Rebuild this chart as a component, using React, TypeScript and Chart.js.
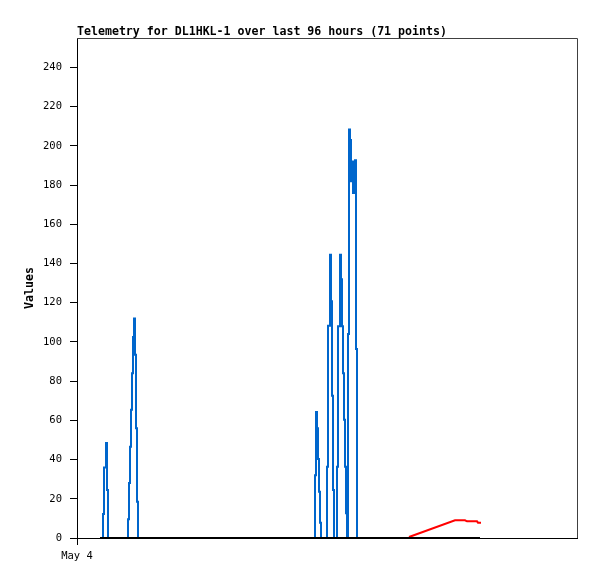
import { useEffect, useRef } from "react";
import { Chart, registerables } from "chart.js";

Chart.register(...registerables);

const TITLE = "Telemetry for DL1HKL-1 over last 96 hours (71 points)";
const Y_LABEL = "Values";
const X_TICKS = [0];
const X_TICK_LABELS = ["May 4"];
const Y_TICKS = [0, 20, 40, 60, 80, 100, 120, 140, 160, 180, 200, 220, 240];
const X_MAX_HOURS = 100;
const Y_MAX = 255;

// hours since start of May 4
const blueHours = [
  4.6,
  5.2, 5.4, 5.8, 6.0, 6.2,
  10.2, 10.4, 10.6, 10.8, 11.0, 11.2, 11.4, 11.6, 11.8, 12.0, 12.2,
  47.6, 47.8, 48.0, 48.2, 48.4, 48.6, 48.8,
  50.0, 50.2, 50.6, 50.8, 51.0, 51.2, 51.4,
  52.0, 52.2, 52.6, 52.8, 53.0, 53.2, 53.4, 53.6, 53.8, 54.0,
  54.2, 54.4, 54.6, 54.8, 55.0, 55.2, 55.4, 55.6, 55.8, 56.0,
  80.6,
];
const blueValues = [
  0,
  12.3, 36, 48.4, 24.5, 0,
  9.5, 28, 46.6, 65.4, 84, 102.5, 112, 93.4, 56, 18.5, 0,
  32, 64.3, 56, 40.3, 23.6, 7.8, 0,
  36.4, 108.3, 144.5, 120.7, 72.5, 24.5, 0,
  36.4, 108, 144.5, 132, 108, 84, 60.3, 36.4, 12.6, 0,
  104, 208.3, 203, 182, 192, 176, 188, 192.7, 96.4, 0,
  0,
];

const blackHours = [4.6, 80.6];
const blackValues = [0, 0];

const redHours = [66.4, 75.6, 77.6, 78.0, 80.0, 80.2, 80.8];
const redValues = [0.5, 9, 9, 8.5, 8.5, 7.8, 7.8];

const BLUE = "#0066cc";
const RED = "#ff0000";
const BLACK = "#000000";
const FRAME = "#404040";
const MONO = '"DejaVu Sans Mono", "Liberation Mono", monospace';

const toPoints = (xs: number[], ys: number[]) => xs.map((x, i) => ({ x, y: ys[i] }));

const decoPlugin = {
  id: "deco",
  afterDraw(chart: any) {
    const { ctx, chartArea: a } = chart;
    ctx.save();
    ctx.strokeStyle = FRAME;
    ctx.lineWidth = 1;
    ctx.beginPath();
    ctx.moveTo(a.left, Math.round(a.top) + 0.5);
    ctx.lineTo(Math.round(a.right) + 0.5, Math.round(a.top) + 0.5);
    ctx.lineTo(Math.round(a.right) + 0.5, a.bottom);
    ctx.stroke();

    ctx.fillStyle = "#000";
    ctx.font = `bold 11.6px ${MONO}`;
    ctx.textBaseline = "alphabetic";
    ctx.textAlign = "left";
    ctx.fillText(TITLE, a.left, a.top - 3);

    ctx.translate(32.5, (a.top + a.bottom) / 2);
    ctx.rotate(-Math.PI / 2);
    ctx.textAlign = "center";
    ctx.fillText(Y_LABEL, 0, 0);
    ctx.restore();
  },
};

export default function App() {
  const ref = useRef<HTMLCanvasElement | null>(null);

  useEffect(() => {
    if (!ref.current) return;
    const chart = new Chart(ref.current, {
      type: "line",
      data: {
        datasets: [
          {
            data: toPoints(blackHours, blackValues),
            borderColor: BLACK,
            borderWidth: 2,
            pointRadius: 0,
          },
          {
            data: toPoints(blueHours, blueValues),
            borderColor: BLUE,
            borderWidth: 2,
            pointRadius: 0,
            stepped: "before",
          },
          {
            data: toPoints(redHours, redValues),
            borderColor: RED,
            borderWidth: 2,
            pointRadius: 0,
          },
        ],
      },
      options: {
        animation: false,
        responsive: false,
        devicePixelRatio: 1,
        layout: { padding: { top: 38, right: 20, left: 0, bottom: 0 } },
        plugins: {
          legend: { display: false },
          tooltip: { enabled: false },
          title: { display: false },
        },
        elements: { line: { tension: 0 } },
        scales: {
          x: {
            type: "linear",
            min: 0,
            max: X_MAX_HOURS,
            afterBuildTicks: (s: any) => {
              s.ticks = X_TICKS.map((v) => ({ value: v }));
            },
            afterFit: (s: any) => {
              s.height = 41;
            },
            ticks: {
              callback: (_v: any, i: number) => X_TICK_LABELS[i],
              font: { family: MONO, size: 10.5 },
              color: "#000",
              padding: 5,
              maxRotation: 0,
              autoSkip: false,
            },
            grid: { drawOnChartArea: false, drawTicks: true, tickLength: 7, color: "#000" },
            border: { color: "#000", width: 1 },
          },
          y: {
            type: "linear",
            min: 0,
            max: Y_MAX,
            afterBuildTicks: (s: any) => {
              s.ticks = Y_TICKS.map((v) => ({ value: v }));
            },
            afterFit: (s: any) => {
              s.width = 77;
            },
            ticks: {
              callback: (v: any) => String(v),
              font: { family: MONO, size: 10.5 },
              color: "#000",
              padding: 8,
              autoSkip: false,
            },
            grid: { drawOnChartArea: false, drawTicks: true, tickLength: 7, color: "#000" },
            border: { color: "#000", width: 1 },
          },
        },
      },
      plugins: [decoPlugin],
    });
    return () => chart.destroy();
  }, []);

  return (
    <div style={{ position: "absolute", left: 0, top: 0, width: 597, height: 579, background: "#fff" }}>
      <canvas ref={ref} width={597} height={579} style={{ display: "block", width: 597, height: 579 }} />
    </div>
  );
}
